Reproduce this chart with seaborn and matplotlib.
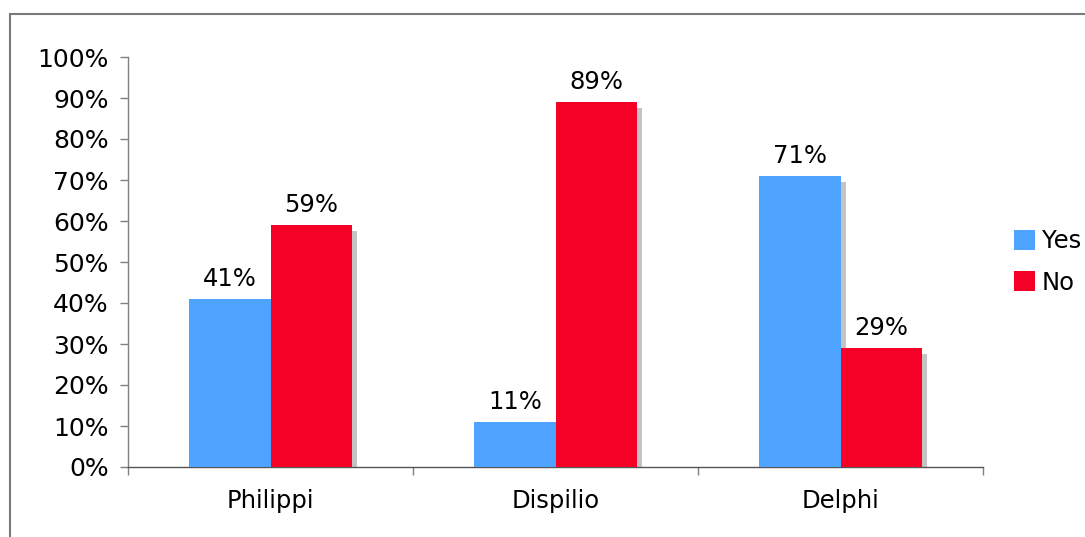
import matplotlib
matplotlib.use("Agg")
import matplotlib.pyplot as plt
from matplotlib.patches import Rectangle
from matplotlib.transforms import ScaledTranslation
from matplotlib.ticker import FixedLocator, PercentFormatter
import seaborn as sns
import pandas as pd

sites = ["Philippi", "Dispilio", "Delphi"]
answers = ["Yes", "No"]
yes_pct = [41, 11, 71]
no_pct = [59, 89, 29]
colors = {"Yes": "#4DA3FF", "No": "#F50026"}

df = pd.DataFrame({
    "site": sites * 2,
    "answer": ["Yes"] * len(sites) + ["No"] * len(sites),
    "pct": yes_pct + no_pct,
})

sns.set_theme(style="white")
plt.rcParams["font.family"] = ["DejaVu Sans"]

fig = plt.figure(figsize=(10.85, 5.37), dpi=100)
ax = fig.add_axes([128 / 1085, 1 - 467 / 537, 855 / 1085, 410 / 537])

sns.barplot(data=df, x="site", y="pct", hue="answer", hue_order=answers,
            order=sites, palette=colors, width=0.57, gap=0, saturation=1,
            linewidth=0, ax=ax, legend=True, zorder=3)

# drop shadows: copies of each bar shifted right/down, clipped by the axes
shift = ax.transData + ScaledTranslation(5 / 100, -6 / 100, fig.dpi_scale_trans)
for p in list(ax.patches):
    sh = Rectangle((p.get_x(), p.get_y()), p.get_width(), p.get_height(),
                   transform=shift, facecolor="#C4C4C4", edgecolor="none",
                   zorder=2, label="_nolegend_")
    ax.add_patch(sh)

for cont in ax.containers:
    ax.bar_label(cont, labels=[f"{v:.0f}%" for v in cont.datavalues],
                 padding=6, fontsize=17.5, color="#000000")

ax.set_ylim(0, 100)
ax.set_xlim(-0.5, 2.5)
ax.yaxis.set_major_locator(FixedLocator(range(0, 101, 10)))
ax.yaxis.set_major_formatter(PercentFormatter(decimals=0))
ax.xaxis.set_minor_locator(FixedLocator([-0.5, 0.5, 1.5, 2.5]))
ax.tick_params(axis="y", which="major", left=True, length=6, width=1,
               color="#808080", pad=8, labelsize=18, labelcolor="#000000")
ax.tick_params(axis="x", which="major", bottom=False, length=0, pad=16,
               labelsize=17.5, labelcolor="#000000")
ax.tick_params(axis="x", which="minor", bottom=True, length=5.5, width=1,
               color="#808080", direction="out")
ax.set_xlabel("")
ax.set_ylabel("")

for side in ["top", "right"]:
    ax.spines[side].set_visible(False)
ax.spines["left"].set_color("#808080")
ax.spines["bottom"].set_color("#555555")
ax.spines["left"].set_linewidth(1)
ax.spines["bottom"].set_linewidth(1)

handles, labels = ax.get_legend_handles_labels()
ax.legend(handles[:2], labels[:2], loc="center left",
          bbox_to_anchor=(1014 / 1085, 1 - 262 / 537),
          bbox_transform=fig.transFigure, frameon=False, fontsize=17.5,
          handlelength=0.85, handleheight=0.85, handletextpad=0.3,
          labelspacing=0.7, borderpad=0, borderaxespad=0,
          labelcolor="#000000")

# outer frame around the chart area
frame = Rectangle((10 / 1085, -0.1), 1.2, 1 - 14 / 537 + 0.1,
                  transform=fig.transFigure, fill=False,
                  edgecolor="#7A7A7A", linewidth=1.5)
fig.patches.append(frame)

fig.savefig("out.png", dpi=100)
